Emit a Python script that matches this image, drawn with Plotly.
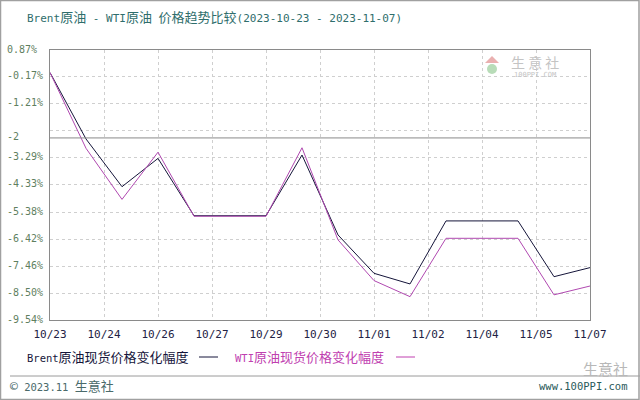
import re
import numpy as np
import plotly.graph_objects as go

# ---------------- data ----------------
dates = ["2023-10-23", "2023-10-24", "2023-10-25", "2023-10-26", "2023-10-27",
         "2023-10-28", "2023-10-29", "2023-10-30", "2023-10-31", "2023-11-01",
         "2023-11-02", "2023-11-03", "2023-11-04", "2023-11-05", "2023-11-06",
         "2023-11-07"]
brent = [0.00, -2.56, -4.40, -3.31, -5.52, -5.52, -5.52, -3.18, -6.26, -7.74,
         -8.15, -5.72, -5.72, -5.72, -7.87, -7.52]
wti = [0.00, -2.92, -4.89, -3.07, -5.54, -5.54, -5.54, -2.90, -6.45, -8.02,
       -8.64, -6.39, -6.39, -6.39, -8.57, -8.23]
x_tick_labels = ["10/23", "10/24", "10/26", "10/27", "10/29", "10/30",
                 "11/01", "11/02", "11/04", "11/05", "11/07"]
y_tick_values = [0.87, -0.17, -1.21, -2.25, -3.29, -4.33, -5.38, -6.42, -7.46, -8.50, -9.54]
y_tick_labels = ["0.87%", "-0.17%", "-1.21%", "", "-3.29%", "-4.33%", "-5.38%",
                 "-6.42%", "-7.46%", "-8.50%", "-9.54%"]
ref_value = -2.52
ref_label = "-2"
title_text = "Brent原油 - WTI原油 价格趋势比较(2023-10-23 - 2023-11-07)"
series_names = ["Brent原油现货价格变化幅度", "WTI原油现货价格变化幅度"]
footer_left = "© 2023.11 生意社"
footer_right = "www.100PPI.com"

# ---------------- style ----------------
W, H = 640, 400
ML, MR, MT, MB = 50, 50, 50, 80
PW, PH = W - ML - MR, H - MT - MB
FONT = "DejaVu Sans Mono, Noto Sans CJK SC, sans-serif"
BRENT_C = "#15153a"
WTI_C = "#b048b0"


def px(x):
    return (x - ML) / PW


def py(y):
    return (H - MB - y) / PH


def mixed(s, cjk_size):
    return re.sub(r"([^\x00-\x7f]+)",
                  lambda m: f'<span style="font-size:{cjk_size}px">{m.group(1)}</span>', s)


t0 = np.datetime64(dates[0]).astype("datetime64[h]").astype(np.int64)
t1 = np.datetime64(dates[-1]).astype("datetime64[h]").astype(np.int64)
tick_hours = np.linspace(t0, t1, len(x_tick_labels))
tick_vals = [str(np.datetime64(int(round(h)), "h")) for h in tick_hours]

fig = go.Figure()
fig.add_trace(go.Scatter(x=dates, y=brent, mode="lines", name=series_names[0],
                         line=dict(color=BRENT_C, width=1)))
fig.add_trace(go.Scatter(x=dates, y=wti, mode="lines", name=series_names[1],
                         line=dict(color=WTI_C, width=1)))

fig.update_layout(
    width=W, height=H, margin=dict(l=ML, r=MR, t=MT, b=MB),
    paper_bgcolor="white", plot_bgcolor="white", showlegend=False,
    font=dict(family=FONT, size=11, color="#222244"),
)
fig.update_xaxes(
    type="date", range=[dates[0], dates[-1]], tickmode="array",
    tickvals=tick_vals, ticktext=x_tick_labels,
    showgrid=True, gridcolor="#cfcfcf", griddash="dot", gridwidth=1,
    showline=True, linecolor="#8a8a8a", mirror=True, linewidth=1,
    ticks="", ticklabelstandoff=4, zeroline=False,
    tickfont=dict(family=FONT, size=11, color="#222244"),
)
fig.update_yaxes(
    range=[y_tick_values[-1], y_tick_values[0]], tickmode="array",
    tickvals=y_tick_values, ticktext=[""] * len(y_tick_values), showticklabels=False,
    showgrid=True, gridcolor="#cfcfcf", griddash="dot", gridwidth=1,
    showline=True, linecolor="#8a8a8a", mirror=True, linewidth=1, zeroline=False,
)

# reference line
fig.add_shape(type="line", xref="paper", x0=0, x1=1, yref="y", y0=ref_value, y1=ref_value,
              line=dict(color="#8a8a8a", width=1))

ann = []
# y labels (left aligned)
for v, t in zip(y_tick_values + [ref_value], y_tick_labels + [ref_label]):
    if not t:
        continue
    ann.append(dict(xref="paper", x=0, xshift=-45, xanchor="left", yref="y", y=v,
                    yshift=1, yanchor="middle", text=t, showarrow=False,
                    font=dict(family=FONT, size=10, color="#5f7f5f")))
# title
ann.append(dict(xref="paper", x=px(25), xanchor="left", yref="paper", y=py(17), yanchor="middle",
                text=mixed(title_text, 13), showarrow=False,
                font=dict(family=FONT, size=11, color="#2f6e6c")))
# legend
ann.append(dict(xref="paper", x=px(25), xanchor="left", yref="paper", y=py(357), yanchor="middle",
                text=mixed(series_names[0], 13), showarrow=False,
                font=dict(family=FONT, size=10.5, color=BRENT_C)))
ann.append(dict(xref="paper", x=px(233), xanchor="left", yref="paper", y=py(357), yanchor="middle",
                text=mixed(series_names[1], 13), showarrow=False,
                font=dict(family=FONT, size=10.5, color="#c040b0")))
fig.add_shape(type="line", xref="paper", yref="paper", x0=px(199), x1=px(218),
              y0=py(357), y1=py(357), line=dict(color=BRENT_C, width=1))
fig.add_shape(type="line", xref="paper", yref="paper", x0=px(396), x1=px(415),
              y0=py(357), y1=py(357), line=dict(color="#c040b0", width=1))
# footer
fig.add_shape(type="line", xref="paper", yref="paper", x0=px(10), x1=px(640),
              y0=py(376), y1=py(376), line=dict(color="#9a9a9a", width=1))
ann.append(dict(xref="paper", x=px(8), xanchor="left", yref="paper", y=py(386), yanchor="middle",
                text=mixed(footer_left, 13), showarrow=False,
                font=dict(family=FONT, size=10.5, color="#4a6a6a")))
ann.append(dict(xref="paper", x=px(630), xanchor="right", yref="paper", y=py(386), yanchor="middle",
                text=footer_right, showarrow=False,
                font=dict(family=FONT, size=10.5, color="#2a5a5a")))
ann.append(dict(xref="paper", x=px(605), xanchor="center", yref="paper", y=py(368), yanchor="middle",
                text="生意社", showarrow=False,
                font=dict(family="Noto Sans CJK SC", size=15, color="#b8b8b8")))
# watermark in plot
ann.append(dict(xref="paper", x=px(535), xanchor="center", yref="paper", y=py(62), yanchor="middle",
                text="生 意 社", showarrow=False,
                font=dict(family="Noto Sans CJK SC", size=14, color="#c4c4c4")))
ann.append(dict(xref="paper", x=px(535), xanchor="center", yref="paper", y=py(75), yanchor="middle",
                text="100PPI.COM", showarrow=False,
                font=dict(family=FONT, size=7, color="#c4c4c4")))
fig.add_shape(type="path", xref="paper", yref="paper",
              path=f"M {px(485)} {py(63)} L {px(492)} {py(56)} L {px(499)} {py(63)} Z",
              fillcolor="#eab0b0", line=dict(width=0))
fig.add_shape(type="circle", xref="paper", yref="paper",
              x0=px(487), x1=px(497), y0=py(74), y1=py(64),
              fillcolor="#b8dcb8", line=dict(width=0))
# outer frame
fig.add_shape(type="rect", xref="paper", yref="paper", x0=px(0.5), x1=px(639), y0=py(399.5), y1=py(0.5),
              line=dict(color="#a0a0a0", width=1.5))

fig.update_layout(annotations=ann)
fig.write_html("out.html", config={"displayModeBar": False},
               post_script="document.body.style.margin='0';document.body.style.padding='0';")
